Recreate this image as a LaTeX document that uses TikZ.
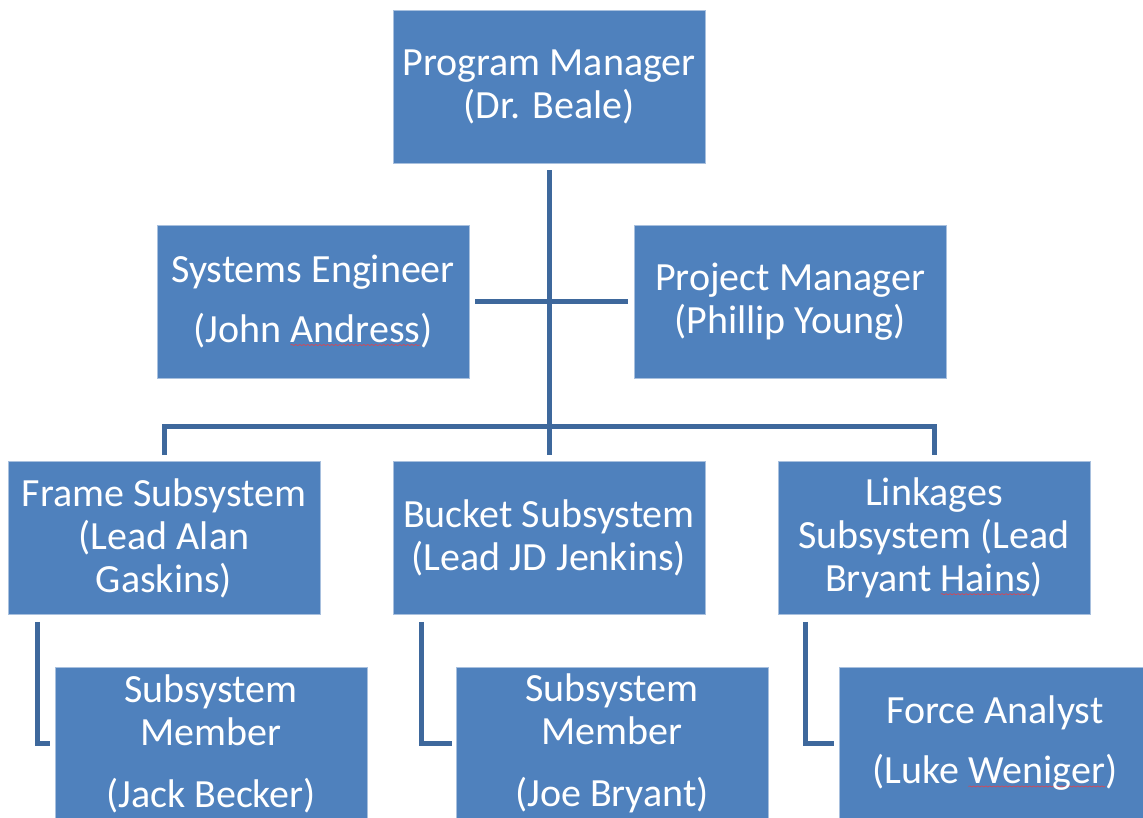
\documentclass[tikz,border=0pt]{standalone}
\usepackage{fontspec}
\setmainfont{Carlito}
\usetikzlibrary{decorations.pathmorphing}

\definecolor{boxfill}{RGB}{79,129,189}
\definecolor{boxedge}{RGB}{168,192,222}
\definecolor{linkcol}{RGB}{62,104,156}
\definecolor{spellred}{RGB}{214,72,86}

% word marked with a red wavy underline
\newsavebox\spellbox
\newcommand\spellword[1]{\sbox\spellbox{#1}%
  \rlap{\tikz[overlay,x=1pt,y=1pt]\draw[spellred,line width=0.7pt,fill=none,
        decorate,decoration={snake,amplitude=0.55pt,segment length=4pt}]
    (0pt,-2.5pt) -- (\wd\spellbox,-2.5pt);}%
  \usebox\spellbox}

\tikzset{
  orgbox/.style={rectangle,fill=boxfill,draw=boxedge,line width=0.75pt,
    minimum width=312pt,minimum height=153pt,inner sep=0pt,
    text=white,align=center,font=\fontsize{40}{43}\selectfont},
  link/.style={draw=linkcol,line width=5pt}
}

\begin{document}
\begin{tikzpicture}[x=1pt,y=-1pt]
\useasboundingbox (0,0) rectangle (1143,817);
\clip (0,0) rectangle (1143,817);

% boxes
\node[orgbox] (pm)  at (549,86.5)  {Program Manager\\(Dr. Beale)};
\node[orgbox] (se)  at (313,301.5) {Systems Engineer\\[17pt](John \spellword{Andress})};
\node[orgbox] (pjm) at (790,301.5) {Project Manager\\(Phillip Young)};
\node[orgbox] (frame)  at (164,538) {Frame Subsystem\\(Lead Alan\\Gaskins)};
\node[orgbox] (bucket) at (549,538) {Bucket Subsystem\\(Lead JD Jenkins)};
\node[orgbox] (lnk)    at (934,538) {Linkages\\Subsystem (Lead\\Bryant \spellword{Hains})};
\node[orgbox] (mem1) at (211,743.5) {Subsystem\\Member\\[19pt](Jack Becker)};
\node[orgbox] (mem2) at (612,743.5) {Subsystem\\Member\\[19pt](Joe Bryant)};
\node[orgbox] (fa)   at (995,743.5) {Force Analyst\\[17pt](Luke \spellword{Weniger})};

% trunk and staff cross-bar
\coordinate (bus) at (549,426);
\draw[link] ([yshift=-7pt]pm.south) -- ([yshift=6pt]bucket.north);
\draw[link] ([xshift=6pt]se.east) -- ([xshift=-6pt]pjm.west);

% bus to subsystem leads
\draw[link] ([yshift=6pt]frame.north) |- (bus) -| ([yshift=6pt]lnk.north);

% leads to members
\draw[link] ([xshift=30pt,yshift=-7pt]frame.south west) |- ([xshift=-5pt]mem1.west);
\draw[link] ([xshift=29pt,yshift=-7pt]bucket.south west) |- ([xshift=-4pt]mem2.west);
\draw[link] ([xshift=28pt,yshift=-7pt]lnk.south west) |- ([xshift=-5pt]fa.west);
\end{tikzpicture}
\end{document}
